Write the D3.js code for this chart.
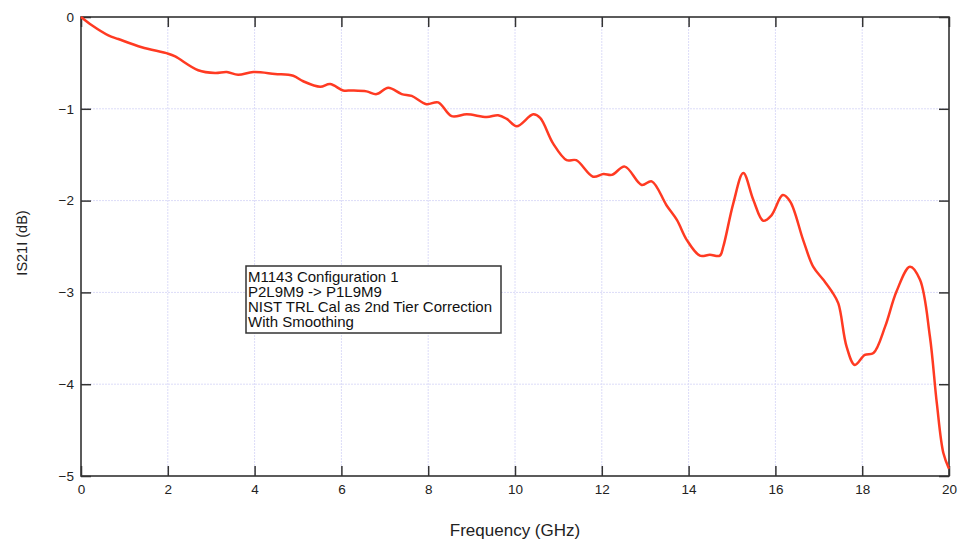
<!DOCTYPE html>
<html>
<head>
<meta charset="utf-8">
<script src="https://cdn.jsdelivr.net/npm/d3@7"></script>
<style>
  html, body { margin: 0; padding: 0; background: #fff; }
  svg { display: block; font-family: "Liberation Sans", Arial, Helvetica, sans-serif; }
</style>
</head>
<body>
<svg id="chart" width="958" height="539"></svg>
<script>
// Measured |S21| transmission (dB) versus frequency (GHz)
const freqGHz = [0, 0.25, 0.63, 0.86, 1.40, 2.01, 2.17, 2.70, 3.09, 3.36, 3.62, 3.97, 4.47, 4.89,
  5.12, 5.51, 5.74, 6.04, 6.24, 6.58, 6.81, 7.08, 7.39, 7.62, 7.96, 8.23, 8.54, 8.89, 9.35, 9.61,
  9.81, 10.04, 10.42, 10.58, 10.88, 11.19, 11.41, 11.80, 12.04, 12.23, 12.53, 12.92, 13.15, 13.49,
  13.73, 13.96, 14.26, 14.49, 14.72, 14.80, 15.03, 15.26, 15.49, 15.72, 15.91, 16.17, 16.34, 16.64,
  16.87, 17.10, 17.30, 17.45, 17.64, 17.83, 18.06, 18.26, 18.53, 18.79, 19.10, 19.33, 19.56, 19.72,
  19.87, 20.0];
const s21dB = [0, -0.09, -0.20, -0.24, -0.33, -0.40, -0.43, -0.58, -0.61, -0.60, -0.63, -0.60, -0.62, -0.64,
  -0.70, -0.76, -0.73, -0.80, -0.80, -0.81, -0.84, -0.77, -0.84, -0.86, -0.95, -0.93, -1.08, -1.06, -1.09, -1.07,
  -1.11, -1.19, -1.06, -1.10, -1.38, -1.56, -1.56, -1.74, -1.71, -1.72, -1.63, -1.83, -1.79, -2.05,
  -2.21, -2.43, -2.60, -2.59, -2.60, -2.50, -2.03, -1.70, -1.99, -2.22, -2.16, -1.94, -2.01, -2.43,
  -2.72, -2.86, -2.99, -3.12, -3.59, -3.79, -3.68, -3.66, -3.37, -2.99, -2.72, -2.86, -3.48, -4.21,
  -4.75, -4.92];

const xTicks = [0, 2, 4, 6, 8, 10, 12, 14, 16, 18, 20];
const yTicks = [0, -1, -2, -3, -4, -5];
const noteLines = ["M1143 Configuration 1", "P2L9M9 -> P1L9M9", "NIST TRL Cal as 2nd Tier Correction", "With Smoothing"];

const svg = d3.select("#chart");
const plotL = 81, plotR = 949, plotT = 17, plotB = 476;

const x = d3.scaleLinear().domain([0, 20]).range([plotL, plotR]);
const y = d3.scaleLinear().domain([-5, 0]).range([plotB, plotT]);

// grid
const grid = svg.append("g").attr("stroke", "#dcdcf8").attr("stroke-width", 1).attr("stroke-dasharray", "2,1");
grid.selectAll("line.gx").data(xTicks.slice(1, -1)).join("line")
  .attr("x1", d => x(d)).attr("x2", d => x(d)).attr("y1", plotT).attr("y2", plotB);
grid.selectAll("line.gy").data(yTicks.slice(1, -1)).join("line")
  .attr("x1", plotL).attr("x2", plotR).attr("y1", d => y(d)).attr("y2", d => y(d));

// axes with inward ticks on all four sides
const tickLen = 10;
const axStyle = g => {
  g.select(".domain").remove();
  g.selectAll(".tick line").attr("stroke", "#333").attr("stroke-width", 1.5);
  g.selectAll(".tick text").attr("fill", "#222").attr("font-size", 13.5).attr("font-family", "Liberation Sans, Arial, sans-serif");
};
svg.append("g").attr("transform", `translate(0,${plotB})`)
  .call(d3.axisBottom(x).tickValues(xTicks).tickSize(-tickLen).tickPadding(8).tickFormat(d3.format("d")))
  .call(axStyle);
svg.append("g").attr("transform", `translate(0,${plotT})`)
  .call(d3.axisTop(x).tickValues(xTicks).tickSize(-tickLen).tickFormat(""))
  .call(axStyle);
svg.append("g").attr("transform", `translate(${plotL},0)`)
  .call(d3.axisLeft(y).tickValues(yTicks).tickSize(-tickLen).tickPadding(7).tickFormat(d3.format("d")))
  .call(axStyle);
svg.append("g").attr("transform", `translate(${plotR},0)`)
  .call(d3.axisRight(y).tickValues(yTicks).tickSize(-tickLen).tickFormat(""))
  .call(axStyle);

// frame
svg.append("rect").attr("x", plotL).attr("y", plotT).attr("width", plotR - plotL).attr("height", plotB - plotT)
  .attr("fill", "none").attr("stroke", "#333").attr("stroke-width", 1.6);

// data curve
const pts = freqGHz.map((f, i) => [f, s21dB[i]]);
svg.append("path").datum(pts)
  .attr("fill", "none").attr("stroke", "#ff3a22").attr("stroke-width", 2.5)
  .attr("stroke-linejoin", "round")
  .attr("d", d3.line().x(d => x(d[0])).y(d => y(d[1])).curve(d3.curveCatmullRom.alpha(0.5)));

// annotation box
const note = svg.append("g");
note.append("rect").attr("x", 246).attr("y", 266).attr("width", 255).attr("height", 67)
  .attr("fill", "#fff").attr("stroke", "#333").attr("stroke-width", 1.5);
note.selectAll("text").data(noteLines).join("text")
  .attr("x", 248).attr("y", (d, i) => 281.5 + i * 15)
  .attr("font-size", 15).attr("fill", "#111").text(d => d);

// axis titles
svg.append("text").attr("x", 515).attr("y", 536).attr("text-anchor", "middle")
  .attr("font-size", 17).attr("fill", "#222").text("Frequency (GHz)");
svg.append("text").attr("transform", "translate(27,243) rotate(-90)").attr("text-anchor", "middle")
  .attr("font-size", 14.5).attr("fill", "#222").text("IS21I (dB)");
</script>
</body>
</html>
